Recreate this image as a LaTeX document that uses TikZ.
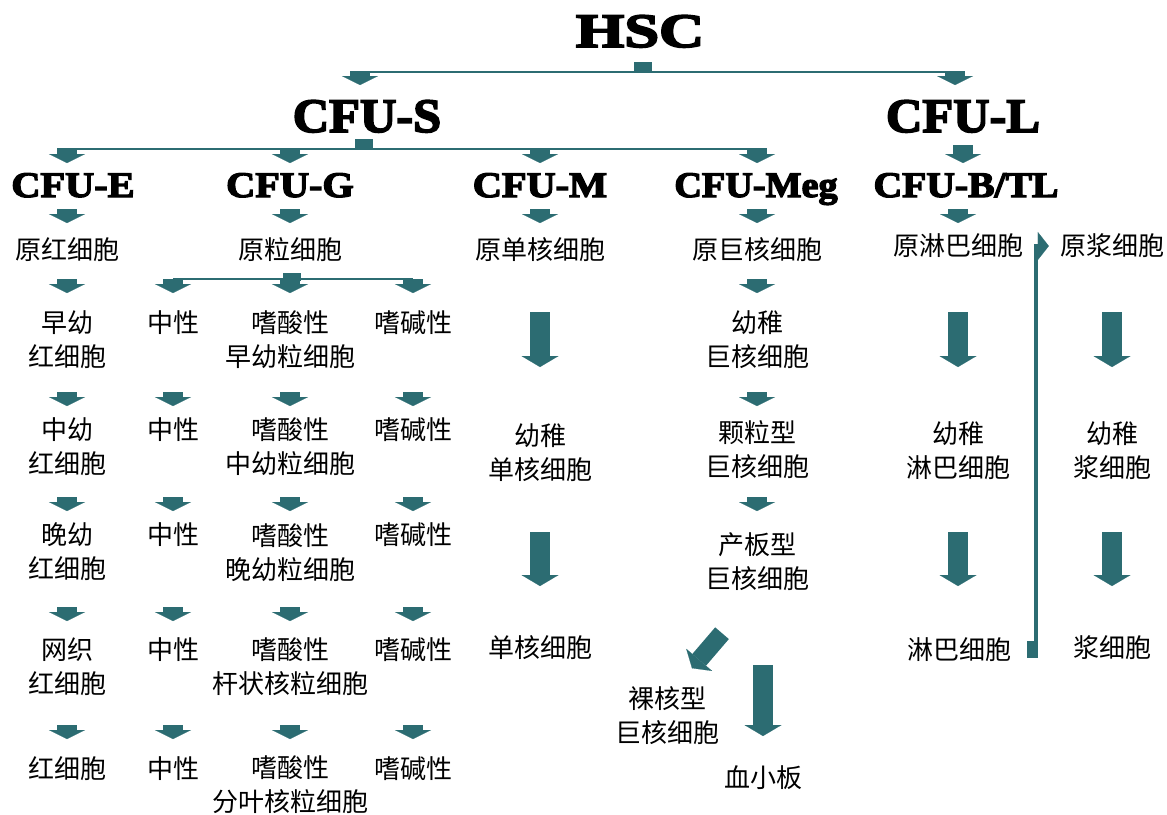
\documentclass[tikz,border=0pt]{standalone}
\usepackage{fontspec}
\usepackage{graphicx}
\usetikzlibrary{arrows.meta,calc}
\setmainfont{Liberation Serif}
\newfontfamily\cjk{Noto Sans CJK SC}
\newfontfamily\cfuserif[BoldFeatures={FakeBold=3.5}]{Liberation Serif}
\definecolor{arrteal}{RGB}{44,108,114}
\newcommand\cellfont{\cjk\fontsize{26}{34}\selectfont}
\newcommand\cfutext[3]{\scalebox{#2}[1]{\cfuserif\bfseries\fontsize{#1}{#1}\selectfont #3}}

\begin{document}
\begin{tikzpicture}[x=1pt,y=-1pt,
  cell/.style={font=\cellfont,align=center,inner sep=0pt},
  lvl/.style={inner sep=0pt,anchor=base},
  sarr/.style={draw=arrteal,line width=20pt,-{Triangle[width=36pt,length=9pt,line width=0.1pt]}},
  barr/.style={draw=arrteal,line width=20pt,-{Triangle[width=37pt,length=11pt,line width=0.1pt]}},
  darr/.style={draw=arrteal,line width=18pt,-{Triangle[width=34pt,length=11pt,line width=0.1pt]}},
  lnk/.style={draw=arrteal,line width=4pt,-{Triangle[width=28pt,length=11pt,line width=0.1pt]}},
  bar/.style={draw=arrteal,line width=2.4pt},
  stub/.style={fill=arrteal}]
\useasboundingbox[fill=white] (0,0) rectangle (1167,814);

% progenitor labels
\node[lvl] (hsc) at (640,47) {\cfutext{48}{1.3}{HSC}};
\node[lvl] (cfus) at (367,132) {\cfutext{48}{1.05}{CFU-S}};
\node[lvl] (cful) at (963,132) {\cfutext{48}{1.05}{CFU-L}};
\node[lvl] (cfue) at (73,197) {\cfutext{36}{1.12}{CFU-E}};
\node[lvl] (cfug) at (290,197) {\cfutext{36}{1.12}{CFU-G}};
\node[lvl] (cfum) at (540,197) {\cfutext{36}{1.12}{CFU-M}};
\node[lvl] (cfumeg) at (756,197) {\cfutext{36}{1.06}{CFU-Meg}};
\node[lvl] (cfub) at (966,197) {\cfutext{36}{1.1}{CFU-B/TL}};

% erythroid
\node[cell] (e1) at (67,250) {原红细胞};
\node[cell] (e2) at (67,340) {早幼\\红细胞};
\node[cell] (e3) at (67,447) {中幼\\红细胞};
\node[cell] (e4) at (67,552) {晚幼\\红细胞};
\node[cell] (e5) at (67,667) {网织\\红细胞};
\node[cell] (e6) at (67,769) {红细胞};

% granulocytes
\node[cell] (g1) at (290,250) {原粒细胞};
\node[cell] (n2) at (173,323) {中性};
\node[cell] (g2) at (290,340) {嗜酸性\\早幼粒细胞};
\node[cell] (b2) at (413,323) {嗜碱性};
\node[cell] (n3) at (173,430) {中性};
\node[cell] (g3) at (290,447) {嗜酸性\\中幼粒细胞};
\node[cell] (b3) at (413,430) {嗜碱性};
\node[cell] (n4) at (173,535) {中性};
\node[cell] (g4) at (290,553) {嗜酸性\\晚幼粒细胞};
\node[cell] (b4) at (413,535) {嗜碱性};
\node[cell] (n5) at (173,650) {中性};
\node[cell] (g5) at (290,667) {嗜酸性\\杆状核粒细胞};
\node[cell] (b5) at (413,650) {嗜碱性};
\node[cell] (n6) at (173,769) {中性};
\node[cell] (g6) at (290,785) {嗜酸性\\分叶核粒细胞};
\node[cell] (b6) at (413,769) {嗜碱性};

% monocytes
\node[cell] (m1) at (540,250) {原单核细胞};
\node[cell] (m2) at (540,453) {幼稚\\单核细胞};
\node[cell] (m3) at (540,648) {单核细胞};

% megakaryocytes
\node[cell] (k1) at (757,250) {原巨核细胞};
\node[cell] (k2) at (757,340) {幼稚\\巨核细胞};
\node[cell] (k3) at (757,450) {颗粒型\\巨核细胞};
\node[cell] (k4) at (757,562) {产板型\\巨核细胞};
\node[cell] (k5) at (667,716) {裸核型\\巨核细胞};
\node[cell] (plt) at (763,778) {血小板};

% lymphocytes and plasma cells
\node[cell] (l1) at (958,246) {原淋巴细胞};
\node[cell] (l2) at (958,451) {幼稚\\淋巴细胞};
\node[cell] (l3) at (959,650) {淋巴细胞};
\node[cell] (p1) at (1112,246) {原浆细胞};
\node[cell] (p2) at (1112,451) {幼稚\\浆细胞};
\node[cell] (p3) at (1112,648) {浆细胞};

% branching bars
\fill[stub] ($(hsc.base)+(-6,15)$) rectangle ($(hsc.base)+(12,25)$);
\draw[bar] (cfus |- 0,72) -- (cful |- 0,72);
\draw[sarr] (360,71) -- (360,85);
\draw[sarr] (955,71) -- (955,85);
\fill[stub] ($(cfus.base)+(-12,7)$) rectangle ($(cfus.base)+(6,17)$);
\draw[bar] (e1 |- 0,149) -- (k1 |- 0,149);
\foreach \c in {e1,g1,m1,k1}
  \draw[sarr] (\c |- 0,148) -- (\c |- 0,163);
\draw[sarr] (cful |- 0,145) -- (cful |- 0,163);
\fill[stub] ($(g1.south)+(-7,11)$) rectangle ($(g1.south)+(11,19)$);
\draw[bar] (n2 |- 0,279) -- (b2 |- 0,279);

% small arrows
\foreach \c in {e1,g1,m1,k1,l1}
  \draw[sarr] (\c |- 0,209) -- (\c |- 0,223);
\foreach \c in {e1,n2,g1,b2,k1}
  \draw[sarr] (\c |- 0,279) -- (\c |- 0,293);
\foreach \y in {392,497}
  \foreach \c in {e1,n2,g1,b2,k1}
    \draw[sarr] (\c |- 0,\y) -- (\c |- 0,\y+14);
\foreach \y in {607,725}
  \foreach \c in {e1,n2,g1,b2}
    \draw[sarr] (\c |- 0,\y) -- (\c |- 0,\y+14);

% long arrows
\foreach \c in {m1,l1,p1} {
  \draw[barr] (\c |- 0,312) -- (\c |- 0,367);
  \draw[barr] (\c |- 0,532) -- (\c |- 0,586);
}
\draw[darr] ($(k4.south)+(-35,42)$) -- ($(k4.south)+(-65,77)$);
\draw[barr] (plt |- 0,665) -- (plt |- 0,736);

% lymphocyte to plasma cell
\fill[stub] ($(l3.east)+(16,-9)$) rectangle ($(l3.east)+(27,8)$);
\draw[lnk] ($(l3.east)+(25,0)$) |- ([xshift=-11pt]p1.west);
\end{tikzpicture}
\end{document}
